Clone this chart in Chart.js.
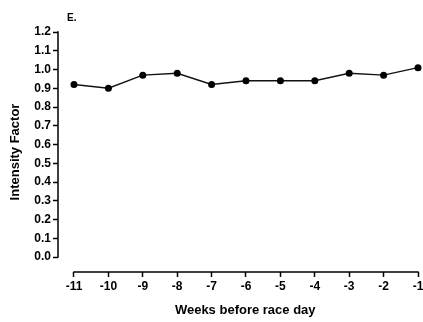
<!DOCTYPE html>
<html>
<head>
<meta charset="utf-8">
<script src="https://cdn.jsdelivr.net/npm/chart.js@4/dist/chart.umd.min.js"></script>
<style>
  body { margin: 0; background: #fff; }
  canvas { display: block; }
</style>
</head>
<body>
<canvas id="canvas" width="423" height="322"></canvas>
<script>
// weeks before race day and mean intensity factor
var weeks = [-11, -10, -9, -8, -7, -6, -5, -4, -3, -2, -1];
var intensity = [0.92, 0.90, 0.97, 0.98, 0.92, 0.94, 0.94, 0.94, 0.98, 0.97, 1.01];
var yTicks = [0.0, 0.1, 0.2, 0.3, 0.4, 0.5, 0.6, 0.7, 0.8, 0.9, 1.0, 1.1, 1.2];
var panelLabel = 'E.';

var points = weeks.map(function (w, i) { return {x: w, y: intensity[i]}; });

var FONT = 'Arial, "Liberation Sans", sans-serif';

// prism style detached axes, drawn from the chart's own scales
var axisLines = {
    id: 'axisLines',
    afterDraw: function (chart) {
        var ctx = chart.ctx, x = chart.scales.x, y = chart.scales.y, area = chart.chartArea;
        ctx.save();
        ctx.strokeStyle = '#000';
        ctx.lineWidth = 1.5;
        ctx.beginPath();
        ctx.moveTo(area.left, y.getPixelForValue(yTicks[0]) + 0.75);
        ctx.lineTo(area.left, y.getPixelForValue(yTicks[yTicks.length - 1]) - 0.75);
        ctx.moveTo(x.getPixelForValue(weeks[0]) - 0.75, area.bottom);
        ctx.lineTo(x.getPixelForValue(weeks[weeks.length - 1]) + 0.75, area.bottom);
        ctx.stroke();
        ctx.fillStyle = '#000';
        ctx.font = 'bold 10px ' + FONT;
        ctx.textBaseline = 'alphabetic';
        ctx.fillText(panelLabel, area.left + 9, 21);
        ctx.restore();
    }
};

var ctx = document.getElementById('canvas').getContext('2d');
var myChart = new Chart(ctx, {
    type: 'line',
    data: {
        datasets: [{
            label: 'Intensity Factor',
            data: points,
            borderColor: '#111',
            backgroundColor: '#000',
            borderWidth: 1.4,
            pointRadius: 3.5,
            pointBackgroundColor: '#000',
            pointBorderWidth: 0,
            clip: false
        }]
    },
    options: {
        responsive: false,
        animation: false,
        elements: { line: { tension: 0 } },
        layout: { padding: { top: 32, right: 5, left: 0, bottom: 0 } },
        plugins: {
            legend: { display: false },
            tooltip: { enabled: false }
        },
        scales: {
            x: {
                type: 'linear',
                min: -11.465,
                max: -1,
                border: { display: false },
                grid: { drawOnChartArea: false, drawTicks: true, tickLength: 5, tickWidth: 1.5, color: '#000' },
                ticks: {
                    stepSize: 1,
                    includeBounds: false,
                    autoSkip: false,
                    maxRotation: 0,
                    padding: 2,
                    color: '#000',
                    font: { family: FONT, size: 12, weight: 'bold' },
                    callback: function (v) { return v; }
                },
                title: {
                    display: true,
                    text: '    Weeks before race day',
                    color: '#000',
                    font: { family: FONT, size: 13, weight: 'bold' },
                    padding: { top: 4, bottom: 4 }
                },
                afterFit: function (s) { s.height = 50; s.paddingLeft = 0; s.paddingRight = 0; }
            },
            y: {
                min: -0.08,
                max: 1.2,
                border: { display: false },
                grid: { drawOnChartArea: false, drawTicks: true, tickLength: 5, tickWidth: 1.5, color: '#000' },
                ticks: {
                    stepSize: 0.1,
                    includeBounds: false,
                    autoSkip: false,
                    padding: 2,
                    color: '#000',
                    font: { family: FONT, size: 12, weight: 'bold' },
                    callback: function (v) { return v.toFixed(1); }
                },
                title: {
                    display: true,
                    text: 'Intensity Factor',
                    color: '#000',
                    font: { family: FONT, size: 13, weight: 'bold' },
                    padding: { top: 8, bottom: 0 }
                },
                afterFit: function (s) { s.width = 58; s.paddingTop = 0; s.paddingBottom = 0; }
            }
        }
    },
    plugins: [axisLines]
});
</script>
</body>
</html>
